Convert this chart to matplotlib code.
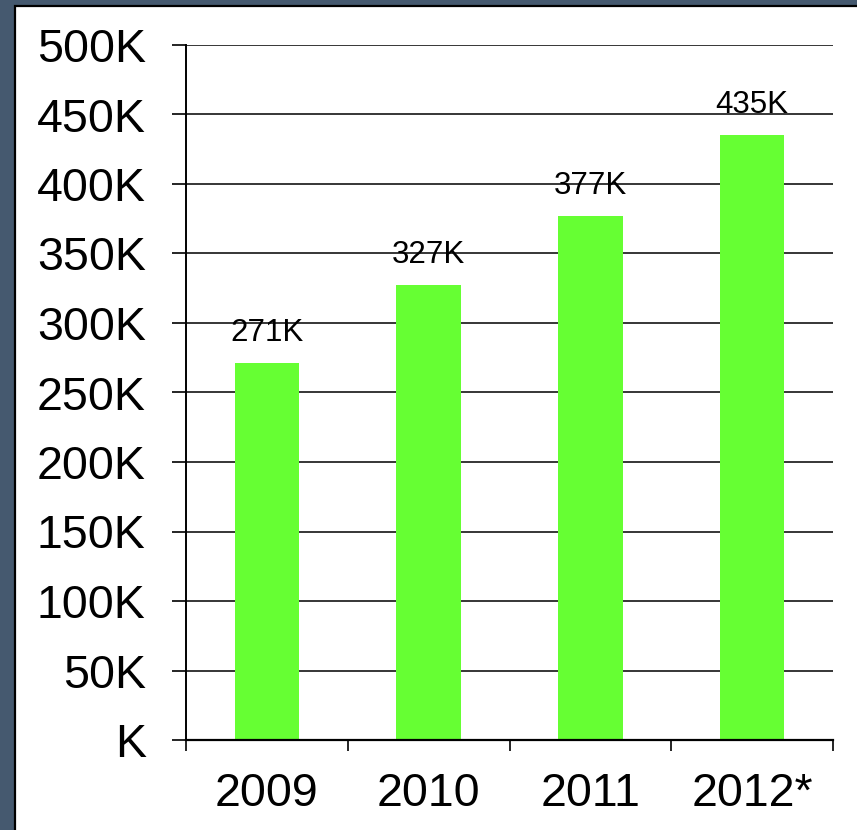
import matplotlib.pyplot as plt
from matplotlib.patches import Rectangle
from matplotlib.ticker import FixedLocator

plt.rcParams['font.family'] = ['Liberation Sans', 'DejaVu Sans']

years = ['2009', '2010', '2011', '2012*']
values = [271000, 327000, 377000, 435000]
bar_labels = ['271K', '327K', '377K', '435K']
yticks = [0, 50000, 100000, 150000, 200000, 250000, 300000, 350000, 400000, 450000, 500000]
ytick_labels = ['K', '50K', '100K', '150K', '200K', '250K', '300K', '350K', '400K', '450K', '500K']

fig = plt.figure(figsize=(8.57, 8.30), dpi=100)
fig.patch.set_facecolor('#45596f')

### white panel with dark edge on the left and top
panel = Rectangle((15.5/857, -0.05), 1.1, 1.05 - 6.5/830, transform=fig.transFigure,
                  facecolor='white', edgecolor='black', linewidth=1.6, zorder=-10)
fig.patches.append(panel)

ax = fig.add_axes([186/857, 1 - 740/830, (833 - 186)/857, (740 - 45)/830])
ax.set_facecolor('none')

x = range(len(years))
ax.bar(x, values, width=0.4, color='#66ff33', zorder=2)
for i, v in enumerate(values):
    ax.text(i, v + 11000, bar_labels[i], ha='center', va='bottom', fontsize=22.5, zorder=3)

ax.set_xlim(-0.5, 3.5)
ax.set_ylim(0, 500000)
ax.set_yticks(yticks)
ax.set_yticklabels(ytick_labels, fontsize=33.5)
ax.set_xticks(list(x))
ax.set_xticklabels(years, fontsize=33.5)
ax.xaxis.set_minor_locator(FixedLocator([-0.5, 0.5, 1.5, 2.5, 3.5]))
ax.tick_params(axis='x', which='major', length=0, pad=23)
ax.tick_params(axis='x', which='minor', length=8, width=1.2, color='black')
ax.tick_params(axis='y', length=10, width=1.2, pad=19)

ax.yaxis.grid(True, color='black', linewidth=1.1)
ax.set_axisbelow(True)
for s in ['top', 'right']:
    ax.spines[s].set_visible(False)
ax.spines['left'].set_linewidth(1.4)
ax.spines['bottom'].set_linewidth(1.6)

fig.savefig('out.png', dpi=100, facecolor=fig.get_facecolor())
